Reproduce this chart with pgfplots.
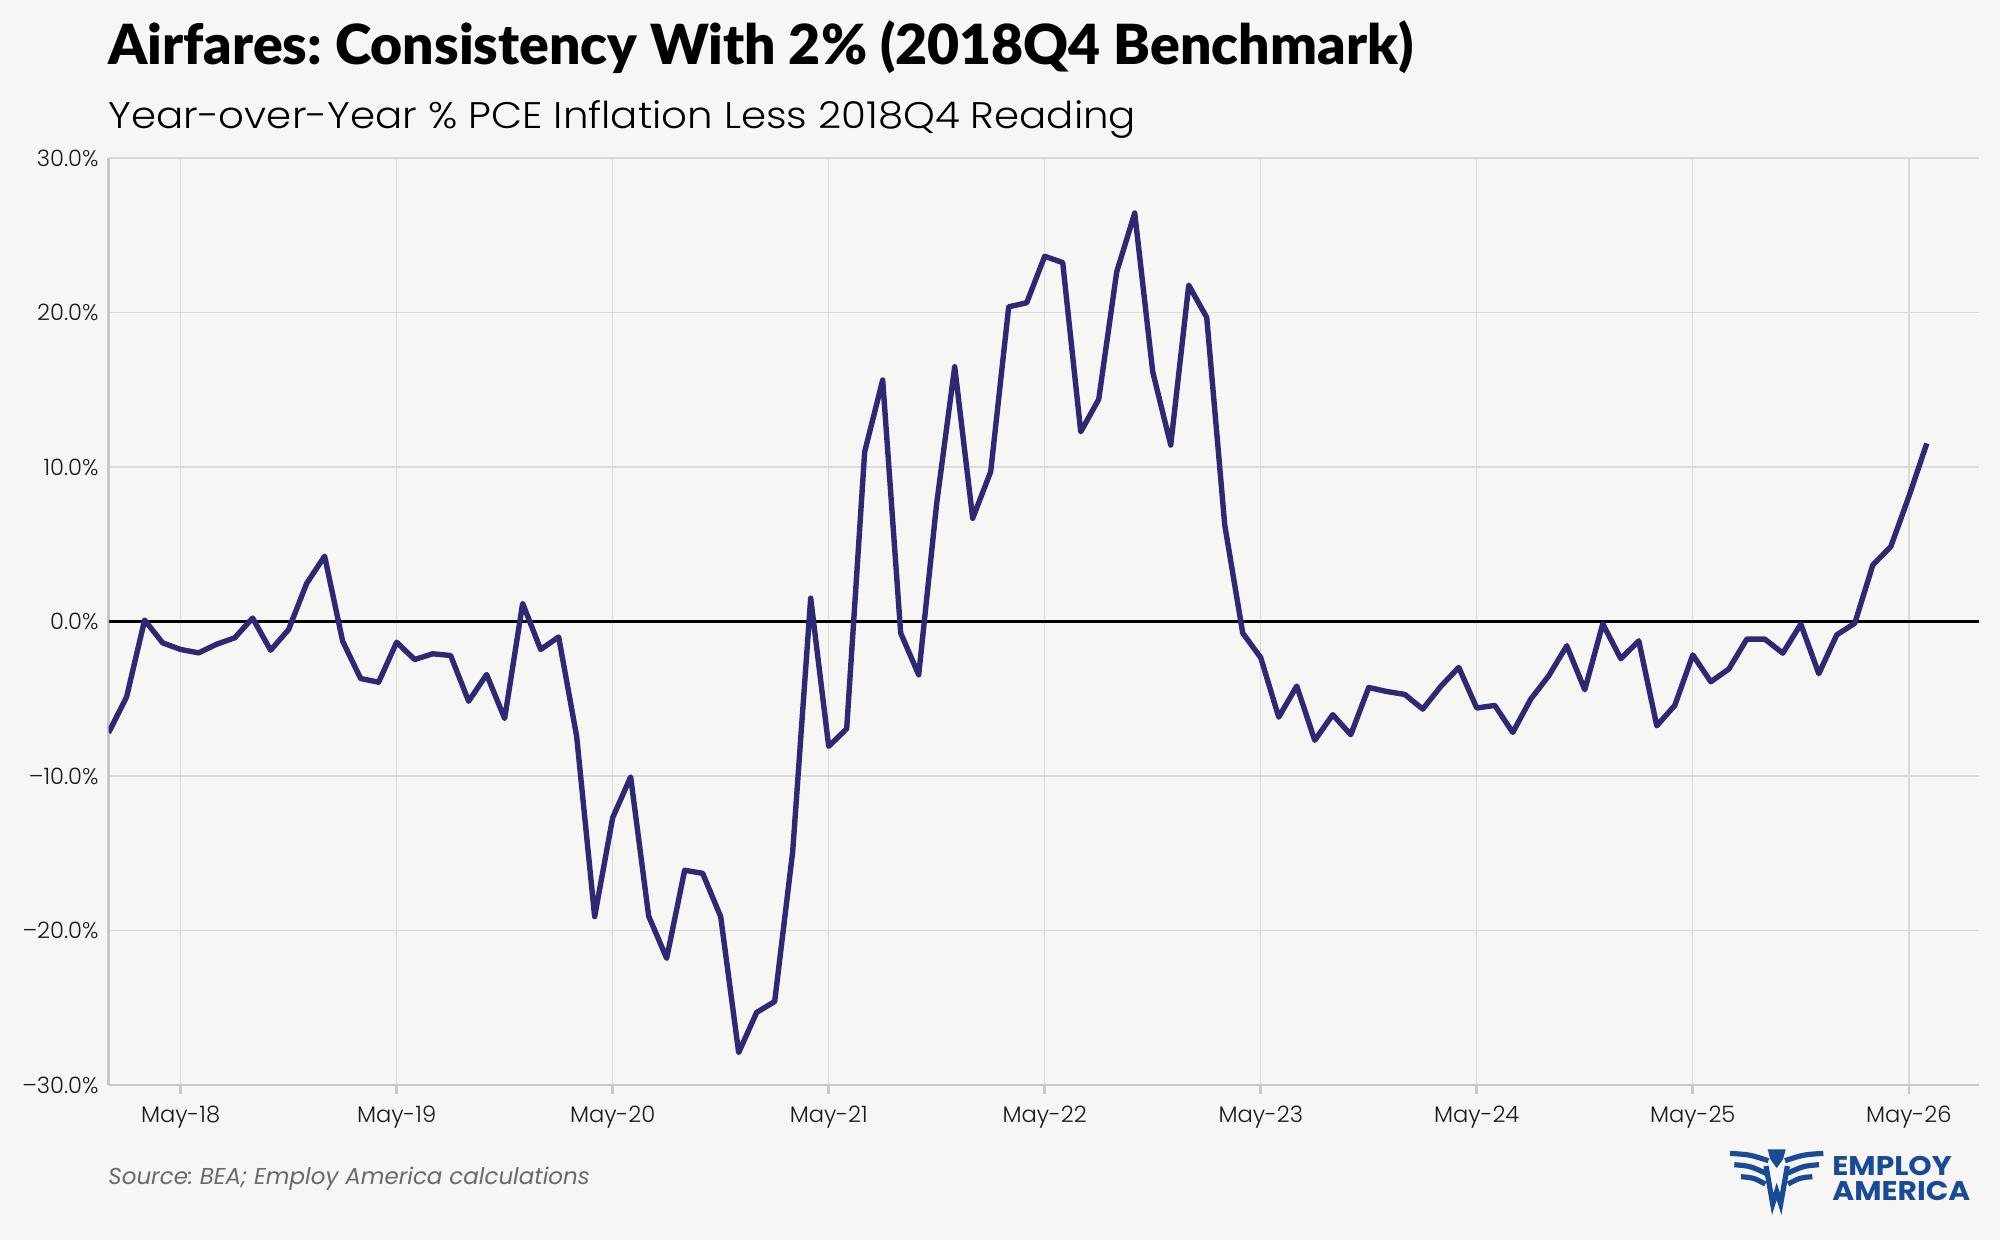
\documentclass[border=0pt]{standalone}
\usepackage{pgfplots}
\pgfplotsset{compat=1.18}
\usepackage{graphicx}
\usepackage{fontspec}
\setmainfont{Poppins}
\newfontfamily\titlefont{Lato}[BoldFont={Lato Black}]
\newfontfamily\lightfont{Poppins Light}
\definecolor{bg}{RGB}{247,246,244}
\definecolor{linec}{RGB}{45,42,115}
\definecolor{axisgray}{RGB}{200,200,200}
\definecolor{gridc}{RGB}{218,218,218}
\definecolor{eablue}{RGB}{24,74,152}
\definecolor{srcgray}{RGB}{105,105,105}
\frenchspacing

\pgfplotstableread{
x y
0 -7.2
1 -4.88
2 0.09
3 -1.38
4 -1.81
5 -2.03
6 -1.47
7 -1.06
8 0.22
9 -1.86
10 -0.52
11 2.46
12 4.23
13 -1.27
14 -3.69
15 -3.93
16 -1.34
17 -2.46
18 -2.09
19 -2.20
20 -5.16
21 -3.43
22 -6.28
23 1.17
24 -1.81
25 -1.0
26 -7.43
27 -19.1
28 -12.7
29 -10.06
30 -19.07
31 -21.8
32 -16.1
33 -16.3
34 -19.1
35 -27.9
36 -25.3
37 -24.6
38 -14.9
39 1.51
40 -8.08
41 -6.94
42 10.99
43 15.63
44 -0.75
45 -3.45
46 7.65
47 16.49
48 6.68
49 9.70
50 20.37
51 20.63
52 23.64
53 23.23
54 12.28
55 14.38
56 22.63
57 26.44
58 16.16
59 11.42
60 21.77
61 19.68
62 6.25
63 -0.75
64 -2.34
65 -6.19
66 -4.18
67 -7.69
68 -6.03
69 -7.33
70 -4.27
71 -4.53
72 -4.72
73 -5.67
74 -4.20
75 -2.97
76 -5.60
77 -5.43
78 -7.18
79 -5.02
80 -3.51
81 -1.57
82 -4.42
83 -0.15
84 -2.41
85 -1.25
86 -6.75
87 -5.43
88 -2.16
89 -3.9
90 -3.08
91 -1.14
92 -1.14
93 -2.05
94 -0.17
95 -3.38
96 -0.86
97 -0.11
98 3.66
99 4.85
100 8.08
101 11.53
}\airfares

\begin{document}
\begin{tikzpicture}[x=1pt,y=1pt]
\fill[bg] (0,0) rectangle (1000,-620);
\begin{axis}[
  at={(54.3pt,-542.5pt)}, anchor=south west,
  scale only axis, width=935.2pt, height=463.5pt,
  xmin=0, xmax=103.9, ymin=-30, ymax=30,
  axis lines*=left,
  axis line style={axisgray, line width=1.3pt, -},
  xtick={4,16,...,100},
  xticklabels={May-18,May-19,May-20,May-21,May-22,May-23,May-24,May-25,May-26},
  ytick={-30,-20,...,30},
  yticklabels={–30.0\%,–20.0\%,–10.0\%,0.0\%,10.0\%,20.0\%,30.0\%},
  tick align=outside,
  major tick length=4.5pt,
  x tick style={axisgray, line width=1.3pt},
  y tick style={draw=none},
  xmajorgrids, ymajorgrids,
  grid style={gridc, line width=0.7pt},
  ticklabel style={font=\lightfont\fontsize{11.3}{13}\selectfont, text=black!90},
  xticklabel style={anchor=base, yshift=-14pt},
  yticklabel style={anchor=east, xshift=3pt},
  clip=true,
]
\addplot[black, line width=1.3pt, forget plot] coordinates {(0,0) (103.9,0)};
\addplot[linec, line width=2.7pt, line join=round] table[x=x,y=y] {\airfares};
\end{axis}
\node[anchor=base west, inner sep=0] at (54,-32.5)
  {\titlefont\bfseries\fontsize{27.65}{32}\selectfont Airfares: Consistency With 2\% (2018Q4 Benchmark)};
\node[anchor=base west, inner sep=0] at (54,-64.5)
  {\scalebox{1.09}[1]{\lightfont\fontsize{18.5}{22}\selectfont Year-over-Year \% PCE Inflation Less 2018Q4 Reading}};
\node[anchor=base west, inner sep=0, text=srcgray] at (54,-592)
  {\itshape\fontsize{11.5}{13}\selectfont Source: BEA; Employ America calculations};
% logo
\node[anchor=base west, inner sep=0, text=eablue] at (916,-587.5)
  {\scalebox{1.1}[1]{\bfseries\fontsize{13.5}{14}\selectfont EMPLOY}};
\node[anchor=base west, inner sep=0, text=eablue] at (916,-600)
  {\scalebox{1.1}[1]{\bfseries\fontsize{13.5}{14}\selectfont AMERICA}};
\begin{scope}[shift={(850,-530)}, x=0.16667pt, y=-0.16667pt, eablue, line width=2.6pt, line cap=butt]
  \draw (90,280) .. controls (150,284) .. (205,302);
  \draw (103,314) .. controls (150,318) .. (198,340);
  \draw (123,350) .. controls (160,353) .. (196,372);
  \draw (370,280) .. controls (310,284) .. (255,302);
  \draw (357,314) .. controls (310,318) .. (262,340);
  \draw (337,350) .. controls (300,353) .. (264,372);
  \fill (203,268) -- (257,268) -- (249,298) -- (230,324) -- (211,298) -- cycle;
  \draw[line width=2.6pt] (198,318) -- (218,432) -- (230,394) -- (242,432) -- (262,318);
\end{scope}
\end{tikzpicture}
\end{document}
